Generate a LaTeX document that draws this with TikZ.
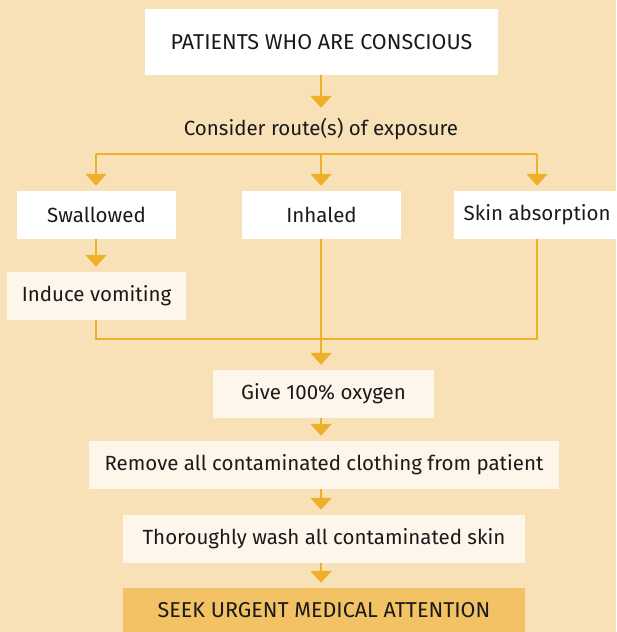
\documentclass[tikz,border=0pt]{standalone}
\usepackage{fontspec}
\setmainfont{Fira Sans}
\usetikzlibrary{arrows.meta}
\definecolor{bgc}{HTML}{F9E1B7}
\definecolor{arrc}{HTML}{EEAF2A}
\definecolor{creamc}{HTML}{FEF6EA}
\definecolor{seekc}{HTML}{F2C265}
\definecolor{txtc}{HTML}{1A1A1A}
\tikzset{
  box/.style={rectangle, inner sep=0pt, text=txtc, font=\fontsize{20.5}{24}\selectfont},
  capsbox/.style={font=\fontsize{21.5}{24}\selectfont},
  wbox/.style={box, fill=white},
  cbox/.style={box, fill=creamc},
  sbox/.style={box, fill=seekc},
  conn/.style={draw=arrc, line width=2.5pt},
  arr/.style={conn, -{Triangle[width=21pt,length=12pt]}, shorten >=5pt},
}
\begin{document}
\begin{tikzpicture}[x=1pt,y=-1pt]
\useasboundingbox (0,0) rectangle (616,632);
\fill[bgc] (0,0) rectangle (616,632);
\node[wbox, capsbox, minimum width=353pt, minimum height=66pt] (top) at (321.5,42) {PATIENTS WHO ARE CONSCIOUS};
\node[box, minimum height=32pt] (consider) at (321,129) {Consider route(s) of exposure};
\node[wbox, minimum width=159pt, minimum height=48pt] (swal) at (96.5,215) {Swallowed};
\node[wbox, minimum width=159pt, minimum height=48pt] (inh) at (321.5,215) {Inhaled};
\node[wbox, minimum width=162pt, minimum height=48pt, anchor=west] (skin) at (454,215) {\hspace*{4pt}Skin absorption};
\node[cbox, minimum width=179pt, minimum height=48pt] (vom) at (96.5,296) {Induce vomiting};
\node[cbox, minimum width=221pt, minimum height=48pt] (oxy) at (323.5,394) {Give 100\% oxygen};
\node[cbox, minimum width=470pt, minimum height=48pt] (rem) at (324,465) {Remove all contaminated clothing from patient};
\node[cbox, minimum width=402pt, minimum height=48pt] (wash) at (324,539) {Thoroughly wash all contaminated skin};
\node[sbox, capsbox, minimum width=402pt, minimum height=44pt] (seek) at (324,610) {SEEK URGENT MEDICAL ATTENTION};
% branch and join points
\coordinate (bl) at (96,154);
\coordinate (br) at (537,154);
\coordinate (bm) at (321,154);
\coordinate (jl) at (96,339);
\coordinate (jr) at (537,339);
\coordinate (jm) at (321,339);
\draw[arr] (321,75) -- (consider.north -| 321,0);
\draw[conn] (bl) -- (br);
\draw[arr] (bl) -- (swal.north -| bl);
\draw[arr] (bm) -- (inh.north -| bm);
\draw[arr] (br) -- (skin.north -| br);
\draw[arr] (swal.south -| bl) -- (vom.north -| bl);
\draw[conn] (vom.south -| jl) -- (jl) -- (jr) -- (skin.south -| jr);
\draw[arr] (inh.south -| jm) -- (oxy.north -| jm);
\draw[arr] (oxy.south -| jm) -- (rem.north -| jm);
\draw[arr] (rem.south -| jm) -- (wash.north -| jm);
\draw[arr] (wash.south -| jm) -- (seek.north -| jm);
\end{tikzpicture}
\end{document}
